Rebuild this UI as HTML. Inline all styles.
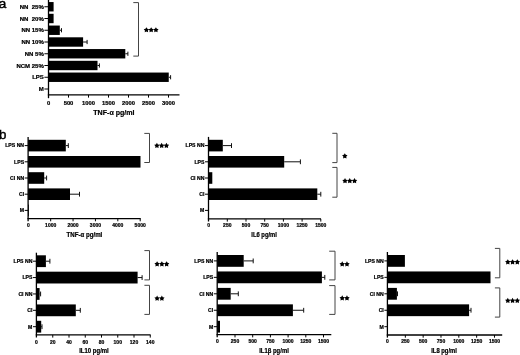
<!DOCTYPE html>
<html><head><meta charset="utf-8"><style>
html,body{margin:0;padding:0;background:#fff;width:520px;height:355px;overflow:hidden;}
svg{display:block;font-family:"Liberation Sans", sans-serif;filter:grayscale(1);}
</style></head><body>
<svg width="520" height="355" viewBox="0 0 520 355">
<rect width="520" height="355" fill="#fff"/>
<line x1="48.50" y1="0.00" x2="48.50" y2="98.20" stroke="#000" stroke-width="1.3"/>
<line x1="47.85" y1="94.90" x2="179.50" y2="94.90" stroke="#000" stroke-width="1.3"/>
<text x="48.50" y="104.90" font-size="5.8" font-weight="bold" text-anchor="middle" fill="#000" stroke="#000" stroke-width="0.22">0</text>
<line x1="68.50" y1="94.90" x2="68.50" y2="97.60" stroke="#000" stroke-width="1.0"/>
<text x="68.50" y="104.90" font-size="5.8" font-weight="bold" text-anchor="middle" fill="#000" stroke="#000" stroke-width="0.22">500</text>
<line x1="88.50" y1="94.90" x2="88.50" y2="97.60" stroke="#000" stroke-width="1.0"/>
<text x="88.50" y="104.90" font-size="5.8" font-weight="bold" text-anchor="middle" fill="#000" stroke="#000" stroke-width="0.22">1000</text>
<line x1="108.50" y1="94.90" x2="108.50" y2="97.60" stroke="#000" stroke-width="1.0"/>
<text x="108.50" y="104.90" font-size="5.8" font-weight="bold" text-anchor="middle" fill="#000" stroke="#000" stroke-width="0.22">1500</text>
<line x1="128.50" y1="94.90" x2="128.50" y2="97.60" stroke="#000" stroke-width="1.0"/>
<text x="128.50" y="104.90" font-size="5.8" font-weight="bold" text-anchor="middle" fill="#000" stroke="#000" stroke-width="0.22">2000</text>
<line x1="148.50" y1="94.90" x2="148.50" y2="97.60" stroke="#000" stroke-width="1.0"/>
<text x="148.50" y="104.90" font-size="5.8" font-weight="bold" text-anchor="middle" fill="#000" stroke="#000" stroke-width="0.22">2500</text>
<line x1="168.50" y1="94.90" x2="168.50" y2="97.60" stroke="#000" stroke-width="1.0"/>
<text x="168.50" y="104.90" font-size="5.8" font-weight="bold" text-anchor="middle" fill="#000" stroke="#000" stroke-width="0.22">3000</text>
<line x1="44.40" y1="6.75" x2="48.50" y2="6.75" stroke="#000" stroke-width="1.0"/>
<text x="43.80" y="8.91" font-size="6.0" font-weight="bold" text-anchor="end" fill="#000" stroke="#000" stroke-width="0.22">NN&#160;&#160;25%</text>
<line x1="44.40" y1="18.50" x2="48.50" y2="18.50" stroke="#000" stroke-width="1.0"/>
<text x="43.80" y="20.66" font-size="6.0" font-weight="bold" text-anchor="end" fill="#000" stroke="#000" stroke-width="0.22">NN&#160;&#160;20%</text>
<line x1="44.40" y1="30.25" x2="48.50" y2="30.25" stroke="#000" stroke-width="1.0"/>
<text x="43.80" y="32.41" font-size="6.0" font-weight="bold" text-anchor="end" fill="#000" stroke="#000" stroke-width="0.22">NN 15%</text>
<line x1="44.40" y1="42.00" x2="48.50" y2="42.00" stroke="#000" stroke-width="1.0"/>
<text x="43.80" y="44.16" font-size="6.0" font-weight="bold" text-anchor="end" fill="#000" stroke="#000" stroke-width="0.22">NN 10%</text>
<line x1="44.40" y1="53.75" x2="48.50" y2="53.75" stroke="#000" stroke-width="1.0"/>
<text x="43.80" y="55.91" font-size="6.0" font-weight="bold" text-anchor="end" fill="#000" stroke="#000" stroke-width="0.22">NN 5%</text>
<line x1="44.40" y1="65.50" x2="48.50" y2="65.50" stroke="#000" stroke-width="1.0"/>
<text x="43.80" y="67.66" font-size="6.0" font-weight="bold" text-anchor="end" fill="#000" stroke="#000" stroke-width="0.22">NCM 25%</text>
<line x1="44.40" y1="77.25" x2="48.50" y2="77.25" stroke="#000" stroke-width="1.0"/>
<text x="43.80" y="79.41" font-size="6.0" font-weight="bold" text-anchor="end" fill="#000" stroke="#000" stroke-width="0.22">LPS</text>
<line x1="44.40" y1="89.00" x2="48.50" y2="89.00" stroke="#000" stroke-width="1.0"/>
<text x="43.80" y="91.16" font-size="6.0" font-weight="bold" text-anchor="end" fill="#000" stroke="#000" stroke-width="0.22">M</text>
<rect x="48.50" y="2.05" width="5.10" height="9.40" fill="#000"/>
<rect x="48.50" y="13.80" width="5.10" height="9.40" fill="#000"/>
<line x1="59.80" y1="30.25" x2="61.50" y2="30.25" stroke="#111" stroke-width="1.0"/>
<line x1="61.50" y1="28.15" x2="61.50" y2="32.35" stroke="#111" stroke-width="1.0"/>
<rect x="48.50" y="25.55" width="11.30" height="9.40" fill="#000"/>
<line x1="83.10" y1="42.00" x2="87.10" y2="42.00" stroke="#111" stroke-width="1.0"/>
<line x1="87.10" y1="39.90" x2="87.10" y2="44.10" stroke="#111" stroke-width="1.0"/>
<rect x="48.50" y="37.30" width="34.60" height="9.40" fill="#000"/>
<line x1="125.30" y1="53.75" x2="127.90" y2="53.75" stroke="#111" stroke-width="1.0"/>
<line x1="127.90" y1="51.65" x2="127.90" y2="55.85" stroke="#111" stroke-width="1.0"/>
<rect x="48.50" y="49.05" width="76.80" height="9.40" fill="#000"/>
<line x1="97.50" y1="65.50" x2="99.40" y2="65.50" stroke="#111" stroke-width="1.0"/>
<line x1="99.40" y1="63.40" x2="99.40" y2="67.60" stroke="#111" stroke-width="1.0"/>
<rect x="48.50" y="60.80" width="49.00" height="9.40" fill="#000"/>
<line x1="168.75" y1="77.25" x2="170.60" y2="77.25" stroke="#111" stroke-width="1.0"/>
<line x1="170.60" y1="75.15" x2="170.60" y2="79.35" stroke="#111" stroke-width="1.0"/>
<rect x="48.50" y="72.55" width="120.25" height="9.40" fill="#000"/>
<polyline points="133.30,2.60 138.50,2.60 138.50,56.10 133.30,56.10" fill="none" stroke="#444" stroke-width="1.0"/>
<polygon points="146.41,27.17 147.33,28.75 149.12,29.14 147.90,30.51 148.09,32.33 146.41,31.59 144.74,32.33 144.92,30.51 143.70,29.14 145.49,28.75" fill="#000"/>
<polygon points="151.16,27.17 152.08,28.75 153.87,29.14 152.65,30.51 152.84,32.33 151.16,31.59 149.49,32.33 149.67,30.51 148.45,29.14 150.24,28.75" fill="#000"/>
<polygon points="155.91,27.17 156.83,28.75 158.62,29.14 157.40,30.51 157.59,32.33 155.91,31.59 154.24,32.33 154.42,30.51 153.20,29.14 154.99,28.75" fill="#000"/>
<text x="93.30" y="114.90" font-size="7.7" font-weight="bold" text-anchor="start" fill="#000" stroke="#000" stroke-width="0.22" textLength="41.30" lengthAdjust="spacingAndGlyphs">TNF-&#945; pg/ml</text>
<text x="-1.30" y="7.60" font-size="13.5" font-weight="normal" text-anchor="start" fill="#000" stroke="#000" stroke-width="0.45">a</text>
<line x1="28.10" y1="136.90" x2="28.10" y2="221.20" stroke="#000" stroke-width="1.3"/>
<line x1="27.45" y1="218.60" x2="140.70" y2="218.60" stroke="#000" stroke-width="1.3"/>
<text x="28.30" y="226.80" font-size="5.4" font-weight="bold" text-anchor="middle" fill="#000" stroke="#000" stroke-width="0.22" textLength="2.79" lengthAdjust="spacingAndGlyphs">0</text>
<line x1="50.68" y1="218.60" x2="50.68" y2="221.30" stroke="#000" stroke-width="1.0"/>
<text x="50.68" y="226.80" font-size="5.4" font-weight="bold" text-anchor="middle" fill="#000" stroke="#000" stroke-width="0.22" textLength="11.17" lengthAdjust="spacingAndGlyphs">1000</text>
<line x1="73.06" y1="218.60" x2="73.06" y2="221.30" stroke="#000" stroke-width="1.0"/>
<text x="73.06" y="226.80" font-size="5.4" font-weight="bold" text-anchor="middle" fill="#000" stroke="#000" stroke-width="0.22" textLength="11.17" lengthAdjust="spacingAndGlyphs">2000</text>
<line x1="95.44" y1="218.60" x2="95.44" y2="221.30" stroke="#000" stroke-width="1.0"/>
<text x="95.44" y="226.80" font-size="5.4" font-weight="bold" text-anchor="middle" fill="#000" stroke="#000" stroke-width="0.22" textLength="11.17" lengthAdjust="spacingAndGlyphs">3000</text>
<line x1="117.82" y1="218.60" x2="117.82" y2="221.30" stroke="#000" stroke-width="1.0"/>
<text x="117.82" y="226.80" font-size="5.4" font-weight="bold" text-anchor="middle" fill="#000" stroke="#000" stroke-width="0.22" textLength="11.17" lengthAdjust="spacingAndGlyphs">4000</text>
<line x1="140.20" y1="218.60" x2="140.20" y2="221.30" stroke="#000" stroke-width="1.0"/>
<text x="140.20" y="226.80" font-size="5.4" font-weight="bold" text-anchor="middle" fill="#000" stroke="#000" stroke-width="0.22" textLength="11.17" lengthAdjust="spacingAndGlyphs">5000</text>
<line x1="24.70" y1="145.60" x2="28.10" y2="145.60" stroke="#000" stroke-width="1.0"/>
<text x="24.10" y="147.45" font-size="5.15" font-weight="bold" text-anchor="end" fill="#000" stroke="#000" stroke-width="0.22">LPS NN</text>
<line x1="24.70" y1="161.80" x2="28.10" y2="161.80" stroke="#000" stroke-width="1.0"/>
<text x="24.10" y="163.65" font-size="5.15" font-weight="bold" text-anchor="end" fill="#000" stroke="#000" stroke-width="0.22">LPS</text>
<line x1="24.70" y1="178.00" x2="28.10" y2="178.00" stroke="#000" stroke-width="1.0"/>
<text x="24.10" y="179.85" font-size="5.15" font-weight="bold" text-anchor="end" fill="#000" stroke="#000" stroke-width="0.22">CI NN</text>
<line x1="24.70" y1="194.20" x2="28.10" y2="194.20" stroke="#000" stroke-width="1.0"/>
<text x="24.10" y="196.05" font-size="5.15" font-weight="bold" text-anchor="end" fill="#000" stroke="#000" stroke-width="0.22">CI</text>
<line x1="24.70" y1="210.40" x2="28.10" y2="210.40" stroke="#000" stroke-width="1.0"/>
<text x="24.10" y="212.25" font-size="5.15" font-weight="bold" text-anchor="end" fill="#000" stroke="#000" stroke-width="0.22">M</text>
<line x1="65.80" y1="145.60" x2="68.30" y2="145.60" stroke="#111" stroke-width="1.0"/>
<line x1="68.30" y1="143.20" x2="68.30" y2="148.00" stroke="#111" stroke-width="1.0"/>
<rect x="28.10" y="139.80" width="37.70" height="11.60" fill="#000"/>
<rect x="28.10" y="156.00" width="112.40" height="11.60" fill="#000"/>
<line x1="44.20" y1="178.00" x2="46.60" y2="178.00" stroke="#111" stroke-width="1.0"/>
<line x1="46.60" y1="175.60" x2="46.60" y2="180.40" stroke="#111" stroke-width="1.0"/>
<rect x="28.10" y="172.20" width="16.10" height="11.60" fill="#000"/>
<line x1="70.00" y1="194.20" x2="79.50" y2="194.20" stroke="#111" stroke-width="1.0"/>
<line x1="79.50" y1="191.80" x2="79.50" y2="196.60" stroke="#111" stroke-width="1.0"/>
<rect x="28.10" y="188.40" width="41.90" height="11.60" fill="#000"/>
<rect x="28.10" y="204.60" width="0.80" height="11.60" fill="#000"/>
<polyline points="144.30,133.40 149.50,133.40 149.50,162.50 144.30,162.50" fill="none" stroke="#444" stroke-width="1.0"/>
<polygon points="156.91,142.82 157.83,144.40 159.62,144.79 158.40,146.16 158.59,147.98 156.91,147.24 155.24,147.98 155.42,146.16 154.20,144.79 155.99,144.40" fill="#000"/>
<polygon points="161.66,142.82 162.58,144.40 164.37,144.79 163.15,146.16 163.34,147.98 161.66,147.24 159.99,147.98 160.17,146.16 158.95,144.79 160.74,144.40" fill="#000"/>
<polygon points="166.41,142.82 167.33,144.40 169.12,144.79 167.90,146.16 168.09,147.98 166.41,147.24 164.74,147.98 164.92,146.16 163.70,144.79 165.49,144.40" fill="#000"/>
<text x="66.50" y="236.70" font-size="6.7" font-weight="bold" text-anchor="start" fill="#000" stroke="#000" stroke-width="0.22" textLength="35.80" lengthAdjust="spacingAndGlyphs">TNF-&#945; pg/ml</text>
<text x="-1.10" y="138.60" font-size="13.3" font-weight="normal" text-anchor="start" fill="#000" stroke="#000" stroke-width="0.45">b</text>
<line x1="208.50" y1="136.90" x2="208.50" y2="221.50" stroke="#000" stroke-width="1.3"/>
<line x1="207.85" y1="218.90" x2="321.00" y2="218.90" stroke="#000" stroke-width="1.3"/>
<text x="208.60" y="227.20" font-size="5.4" font-weight="bold" text-anchor="middle" fill="#000" stroke="#000" stroke-width="0.22" textLength="2.79" lengthAdjust="spacingAndGlyphs">0</text>
<line x1="227.30" y1="218.90" x2="227.30" y2="221.60" stroke="#000" stroke-width="1.0"/>
<text x="227.30" y="227.20" font-size="5.4" font-weight="bold" text-anchor="middle" fill="#000" stroke="#000" stroke-width="0.22" textLength="8.38" lengthAdjust="spacingAndGlyphs">250</text>
<line x1="246.00" y1="218.90" x2="246.00" y2="221.60" stroke="#000" stroke-width="1.0"/>
<text x="246.00" y="227.20" font-size="5.4" font-weight="bold" text-anchor="middle" fill="#000" stroke="#000" stroke-width="0.22" textLength="8.38" lengthAdjust="spacingAndGlyphs">500</text>
<line x1="264.70" y1="218.90" x2="264.70" y2="221.60" stroke="#000" stroke-width="1.0"/>
<text x="264.70" y="227.20" font-size="5.4" font-weight="bold" text-anchor="middle" fill="#000" stroke="#000" stroke-width="0.22" textLength="8.38" lengthAdjust="spacingAndGlyphs">750</text>
<line x1="283.40" y1="218.90" x2="283.40" y2="221.60" stroke="#000" stroke-width="1.0"/>
<text x="283.40" y="227.20" font-size="5.4" font-weight="bold" text-anchor="middle" fill="#000" stroke="#000" stroke-width="0.22" textLength="11.17" lengthAdjust="spacingAndGlyphs">1000</text>
<line x1="302.10" y1="218.90" x2="302.10" y2="221.60" stroke="#000" stroke-width="1.0"/>
<text x="302.10" y="227.20" font-size="5.4" font-weight="bold" text-anchor="middle" fill="#000" stroke="#000" stroke-width="0.22" textLength="11.17" lengthAdjust="spacingAndGlyphs">1250</text>
<line x1="320.80" y1="218.90" x2="320.80" y2="221.60" stroke="#000" stroke-width="1.0"/>
<text x="320.80" y="227.20" font-size="5.4" font-weight="bold" text-anchor="middle" fill="#000" stroke="#000" stroke-width="0.22" textLength="11.17" lengthAdjust="spacingAndGlyphs">1500</text>
<line x1="205.00" y1="145.60" x2="208.50" y2="145.60" stroke="#000" stroke-width="1.0"/>
<text x="204.40" y="147.45" font-size="5.15" font-weight="bold" text-anchor="end" fill="#000" stroke="#000" stroke-width="0.22">LPS NN</text>
<line x1="205.00" y1="161.80" x2="208.50" y2="161.80" stroke="#000" stroke-width="1.0"/>
<text x="204.40" y="163.65" font-size="5.15" font-weight="bold" text-anchor="end" fill="#000" stroke="#000" stroke-width="0.22">LPS</text>
<line x1="205.00" y1="178.00" x2="208.50" y2="178.00" stroke="#000" stroke-width="1.0"/>
<text x="204.40" y="179.85" font-size="5.15" font-weight="bold" text-anchor="end" fill="#000" stroke="#000" stroke-width="0.22">CI NN</text>
<line x1="205.00" y1="194.20" x2="208.50" y2="194.20" stroke="#000" stroke-width="1.0"/>
<text x="204.40" y="196.05" font-size="5.15" font-weight="bold" text-anchor="end" fill="#000" stroke="#000" stroke-width="0.22">CI</text>
<line x1="205.00" y1="210.40" x2="208.50" y2="210.40" stroke="#000" stroke-width="1.0"/>
<text x="204.40" y="212.25" font-size="5.15" font-weight="bold" text-anchor="end" fill="#000" stroke="#000" stroke-width="0.22">M</text>
<line x1="222.80" y1="145.60" x2="231.50" y2="145.60" stroke="#111" stroke-width="1.0"/>
<line x1="231.50" y1="143.20" x2="231.50" y2="148.00" stroke="#111" stroke-width="1.0"/>
<rect x="208.50" y="139.80" width="14.30" height="11.60" fill="#000"/>
<line x1="284.20" y1="161.80" x2="300.40" y2="161.80" stroke="#111" stroke-width="1.0"/>
<line x1="300.40" y1="159.40" x2="300.40" y2="164.20" stroke="#111" stroke-width="1.0"/>
<rect x="208.50" y="156.00" width="75.70" height="11.60" fill="#000"/>
<rect x="208.50" y="172.20" width="3.80" height="11.60" fill="#000"/>
<line x1="317.30" y1="194.20" x2="320.80" y2="194.20" stroke="#111" stroke-width="1.0"/>
<line x1="320.80" y1="191.80" x2="320.80" y2="196.60" stroke="#111" stroke-width="1.0"/>
<rect x="208.50" y="188.40" width="108.80" height="11.60" fill="#000"/>
<polyline points="332.30,133.30 337.00,133.30 337.00,162.60 332.30,162.60" fill="none" stroke="#444" stroke-width="1.0"/>
<polygon points="344.81,153.22 345.73,154.80 347.52,155.19 346.30,156.56 346.49,158.38 344.81,157.64 343.14,158.38 343.32,156.56 342.10,155.19 343.89,154.80" fill="#000"/>
<polyline points="332.30,167.40 337.00,167.40 337.00,197.20 332.30,197.20" fill="none" stroke="#444" stroke-width="1.0"/>
<polygon points="345.01,178.12 345.93,179.70 347.72,180.09 346.50,181.46 346.69,183.28 345.01,182.54 343.34,183.28 343.52,181.46 342.30,180.09 344.09,179.70" fill="#000"/>
<polygon points="349.76,178.12 350.68,179.70 352.47,180.09 351.25,181.46 351.44,183.28 349.76,182.54 348.09,183.28 348.27,181.46 347.05,180.09 348.84,179.70" fill="#000"/>
<polygon points="354.51,178.12 355.43,179.70 357.22,180.09 356.00,181.46 356.19,183.28 354.51,182.54 352.84,183.28 353.02,181.46 351.80,180.09 353.59,179.70" fill="#000"/>
<text x="251.30" y="236.60" font-size="6.7" font-weight="bold" text-anchor="start" fill="#000" stroke="#000" stroke-width="0.22" textLength="25.60" lengthAdjust="spacingAndGlyphs">IL6 pg/ml</text>
<line x1="36.40" y1="252.70" x2="36.40" y2="337.50" stroke="#000" stroke-width="1.3"/>
<line x1="35.75" y1="334.90" x2="150.60" y2="334.90" stroke="#000" stroke-width="1.3"/>
<text x="36.50" y="343.50" font-size="5.4" font-weight="bold" text-anchor="middle" fill="#000" stroke="#000" stroke-width="0.22" textLength="2.79" lengthAdjust="spacingAndGlyphs">0</text>
<line x1="52.75" y1="334.90" x2="52.75" y2="337.60" stroke="#000" stroke-width="1.0"/>
<text x="52.75" y="343.50" font-size="5.4" font-weight="bold" text-anchor="middle" fill="#000" stroke="#000" stroke-width="0.22" textLength="5.58" lengthAdjust="spacingAndGlyphs">20</text>
<line x1="69.00" y1="334.90" x2="69.00" y2="337.60" stroke="#000" stroke-width="1.0"/>
<text x="69.00" y="343.50" font-size="5.4" font-weight="bold" text-anchor="middle" fill="#000" stroke="#000" stroke-width="0.22" textLength="5.58" lengthAdjust="spacingAndGlyphs">40</text>
<line x1="85.25" y1="334.90" x2="85.25" y2="337.60" stroke="#000" stroke-width="1.0"/>
<text x="85.25" y="343.50" font-size="5.4" font-weight="bold" text-anchor="middle" fill="#000" stroke="#000" stroke-width="0.22" textLength="5.58" lengthAdjust="spacingAndGlyphs">60</text>
<line x1="101.50" y1="334.90" x2="101.50" y2="337.60" stroke="#000" stroke-width="1.0"/>
<text x="101.50" y="343.50" font-size="5.4" font-weight="bold" text-anchor="middle" fill="#000" stroke="#000" stroke-width="0.22" textLength="5.58" lengthAdjust="spacingAndGlyphs">80</text>
<line x1="117.75" y1="334.90" x2="117.75" y2="337.60" stroke="#000" stroke-width="1.0"/>
<text x="117.75" y="343.50" font-size="5.4" font-weight="bold" text-anchor="middle" fill="#000" stroke="#000" stroke-width="0.22" textLength="8.38" lengthAdjust="spacingAndGlyphs">100</text>
<line x1="134.00" y1="334.90" x2="134.00" y2="337.60" stroke="#000" stroke-width="1.0"/>
<text x="134.00" y="343.50" font-size="5.4" font-weight="bold" text-anchor="middle" fill="#000" stroke="#000" stroke-width="0.22" textLength="8.38" lengthAdjust="spacingAndGlyphs">120</text>
<line x1="150.25" y1="334.90" x2="150.25" y2="337.60" stroke="#000" stroke-width="1.0"/>
<text x="150.25" y="343.50" font-size="5.4" font-weight="bold" text-anchor="middle" fill="#000" stroke="#000" stroke-width="0.22" textLength="8.38" lengthAdjust="spacingAndGlyphs">140</text>
<line x1="33.00" y1="261.20" x2="36.40" y2="261.20" stroke="#000" stroke-width="1.0"/>
<text x="32.40" y="263.05" font-size="5.15" font-weight="bold" text-anchor="end" fill="#000" stroke="#000" stroke-width="0.22">LPS NN</text>
<line x1="33.00" y1="277.57" x2="36.40" y2="277.57" stroke="#000" stroke-width="1.0"/>
<text x="32.40" y="279.43" font-size="5.15" font-weight="bold" text-anchor="end" fill="#000" stroke="#000" stroke-width="0.22">LPS</text>
<line x1="33.00" y1="293.95" x2="36.40" y2="293.95" stroke="#000" stroke-width="1.0"/>
<text x="32.40" y="295.80" font-size="5.15" font-weight="bold" text-anchor="end" fill="#000" stroke="#000" stroke-width="0.22">CI NN</text>
<line x1="33.00" y1="310.32" x2="36.40" y2="310.32" stroke="#000" stroke-width="1.0"/>
<text x="32.40" y="312.18" font-size="5.15" font-weight="bold" text-anchor="end" fill="#000" stroke="#000" stroke-width="0.22">CI</text>
<line x1="33.00" y1="326.70" x2="36.40" y2="326.70" stroke="#000" stroke-width="1.0"/>
<text x="32.40" y="328.55" font-size="5.15" font-weight="bold" text-anchor="end" fill="#000" stroke="#000" stroke-width="0.22">M</text>
<line x1="45.90" y1="261.20" x2="49.90" y2="261.20" stroke="#111" stroke-width="1.0"/>
<line x1="49.90" y1="258.80" x2="49.90" y2="263.60" stroke="#111" stroke-width="1.0"/>
<rect x="36.40" y="255.30" width="9.50" height="11.80" fill="#000"/>
<line x1="137.60" y1="277.57" x2="142.10" y2="277.57" stroke="#111" stroke-width="1.0"/>
<line x1="142.10" y1="275.18" x2="142.10" y2="279.97" stroke="#111" stroke-width="1.0"/>
<rect x="36.40" y="271.68" width="101.20" height="11.80" fill="#000"/>
<line x1="39.60" y1="293.95" x2="40.60" y2="293.95" stroke="#111" stroke-width="1.0"/>
<line x1="40.60" y1="291.55" x2="40.60" y2="296.35" stroke="#111" stroke-width="1.0"/>
<rect x="36.40" y="288.05" width="3.20" height="11.80" fill="#000"/>
<line x1="75.80" y1="310.32" x2="80.30" y2="310.32" stroke="#111" stroke-width="1.0"/>
<line x1="80.30" y1="307.93" x2="80.30" y2="312.72" stroke="#111" stroke-width="1.0"/>
<rect x="36.40" y="304.43" width="39.40" height="11.80" fill="#000"/>
<line x1="41.20" y1="326.70" x2="42.00" y2="326.70" stroke="#111" stroke-width="1.0"/>
<line x1="42.00" y1="324.30" x2="42.00" y2="329.10" stroke="#111" stroke-width="1.0"/>
<rect x="36.40" y="320.80" width="4.80" height="11.80" fill="#000"/>
<polyline points="144.40,250.60 149.50,250.60 149.50,279.90 144.40,279.90" fill="none" stroke="#444" stroke-width="1.0"/>
<polygon points="157.11,261.22 158.03,262.80 159.82,263.19 158.60,264.56 158.79,266.38 157.11,265.64 155.44,266.38 155.62,264.56 154.40,263.19 156.19,262.80" fill="#000"/>
<polygon points="161.86,261.22 162.78,262.80 164.57,263.19 163.35,264.56 163.54,266.38 161.86,265.64 160.19,266.38 160.37,264.56 159.15,263.19 160.94,262.80" fill="#000"/>
<polygon points="166.61,261.22 167.53,262.80 169.32,263.19 168.10,264.56 168.29,266.38 166.61,265.64 164.94,266.38 165.12,264.56 163.90,263.19 165.69,262.80" fill="#000"/>
<polyline points="144.40,285.30 149.50,285.30 149.50,314.40 144.40,314.40" fill="none" stroke="#444" stroke-width="1.0"/>
<polygon points="157.11,295.62 158.03,297.20 159.82,297.59 158.60,298.96 158.79,300.78 157.11,300.04 155.44,300.78 155.62,298.96 154.40,297.59 156.19,297.20" fill="#000"/>
<polygon points="161.86,295.62 162.78,297.20 164.57,297.59 163.35,298.96 163.54,300.78 161.86,300.04 160.19,300.78 160.37,298.96 159.15,297.59 160.94,297.20" fill="#000"/>
<text x="79.20" y="353.00" font-size="6.5" font-weight="bold" text-anchor="start" fill="#000" stroke="#000" stroke-width="0.22" textLength="29.60" lengthAdjust="spacingAndGlyphs">IL10 pg/ml</text>
<line x1="217.20" y1="252.00" x2="217.20" y2="337.30" stroke="#000" stroke-width="1.3"/>
<line x1="216.55" y1="334.70" x2="331.30" y2="334.70" stroke="#000" stroke-width="1.3"/>
<text x="217.30" y="342.70" font-size="5.4" font-weight="bold" text-anchor="middle" fill="#000" stroke="#000" stroke-width="0.22" textLength="2.79" lengthAdjust="spacingAndGlyphs">0</text>
<line x1="235.00" y1="334.70" x2="235.00" y2="337.40" stroke="#000" stroke-width="1.0"/>
<text x="235.00" y="342.70" font-size="5.4" font-weight="bold" text-anchor="middle" fill="#000" stroke="#000" stroke-width="0.22" textLength="8.38" lengthAdjust="spacingAndGlyphs">250</text>
<line x1="252.70" y1="334.70" x2="252.70" y2="337.40" stroke="#000" stroke-width="1.0"/>
<text x="252.70" y="342.70" font-size="5.4" font-weight="bold" text-anchor="middle" fill="#000" stroke="#000" stroke-width="0.22" textLength="8.38" lengthAdjust="spacingAndGlyphs">500</text>
<line x1="270.40" y1="334.70" x2="270.40" y2="337.40" stroke="#000" stroke-width="1.0"/>
<text x="270.40" y="342.70" font-size="5.4" font-weight="bold" text-anchor="middle" fill="#000" stroke="#000" stroke-width="0.22" textLength="8.38" lengthAdjust="spacingAndGlyphs">750</text>
<line x1="288.10" y1="334.70" x2="288.10" y2="337.40" stroke="#000" stroke-width="1.0"/>
<text x="288.10" y="342.70" font-size="5.4" font-weight="bold" text-anchor="middle" fill="#000" stroke="#000" stroke-width="0.22" textLength="11.17" lengthAdjust="spacingAndGlyphs">1000</text>
<line x1="305.80" y1="334.70" x2="305.80" y2="337.40" stroke="#000" stroke-width="1.0"/>
<text x="305.80" y="342.70" font-size="5.4" font-weight="bold" text-anchor="middle" fill="#000" stroke="#000" stroke-width="0.22" textLength="11.17" lengthAdjust="spacingAndGlyphs">1250</text>
<line x1="323.50" y1="334.70" x2="323.50" y2="337.40" stroke="#000" stroke-width="1.0"/>
<text x="323.50" y="342.70" font-size="5.4" font-weight="bold" text-anchor="middle" fill="#000" stroke="#000" stroke-width="0.22" textLength="11.17" lengthAdjust="spacingAndGlyphs">1500</text>
<line x1="213.80" y1="260.90" x2="217.20" y2="260.90" stroke="#000" stroke-width="1.0"/>
<text x="213.20" y="262.75" font-size="5.15" font-weight="bold" text-anchor="end" fill="#000" stroke="#000" stroke-width="0.22">LPS NN</text>
<line x1="213.80" y1="277.35" x2="217.20" y2="277.35" stroke="#000" stroke-width="1.0"/>
<text x="213.20" y="279.20" font-size="5.15" font-weight="bold" text-anchor="end" fill="#000" stroke="#000" stroke-width="0.22">LPS</text>
<line x1="213.80" y1="293.80" x2="217.20" y2="293.80" stroke="#000" stroke-width="1.0"/>
<text x="213.20" y="295.65" font-size="5.15" font-weight="bold" text-anchor="end" fill="#000" stroke="#000" stroke-width="0.22">CI NN</text>
<line x1="213.80" y1="310.25" x2="217.20" y2="310.25" stroke="#000" stroke-width="1.0"/>
<text x="213.20" y="312.10" font-size="5.15" font-weight="bold" text-anchor="end" fill="#000" stroke="#000" stroke-width="0.22">CI</text>
<line x1="213.80" y1="326.70" x2="217.20" y2="326.70" stroke="#000" stroke-width="1.0"/>
<text x="213.20" y="328.55" font-size="5.15" font-weight="bold" text-anchor="end" fill="#000" stroke="#000" stroke-width="0.22">M</text>
<line x1="243.70" y1="260.90" x2="253.20" y2="260.90" stroke="#111" stroke-width="1.0"/>
<line x1="253.20" y1="258.50" x2="253.20" y2="263.30" stroke="#111" stroke-width="1.0"/>
<rect x="217.20" y="255.00" width="26.50" height="11.80" fill="#000"/>
<line x1="321.90" y1="277.35" x2="324.80" y2="277.35" stroke="#111" stroke-width="1.0"/>
<line x1="324.80" y1="274.95" x2="324.80" y2="279.75" stroke="#111" stroke-width="1.0"/>
<rect x="217.20" y="271.45" width="104.70" height="11.80" fill="#000"/>
<line x1="230.70" y1="293.80" x2="238.30" y2="293.80" stroke="#111" stroke-width="1.0"/>
<line x1="238.30" y1="291.40" x2="238.30" y2="296.20" stroke="#111" stroke-width="1.0"/>
<rect x="217.20" y="287.90" width="13.50" height="11.80" fill="#000"/>
<line x1="292.90" y1="310.25" x2="303.70" y2="310.25" stroke="#111" stroke-width="1.0"/>
<line x1="303.70" y1="307.85" x2="303.70" y2="312.65" stroke="#111" stroke-width="1.0"/>
<rect x="217.20" y="304.35" width="75.70" height="11.80" fill="#000"/>
<rect x="217.20" y="320.80" width="2.80" height="11.80" fill="#000"/>
<polyline points="329.20,251.20 335.00,251.20 335.00,279.90 329.20,279.90" fill="none" stroke="#444" stroke-width="1.0"/>
<polygon points="342.21,261.32 343.13,262.90 344.92,263.29 343.70,264.66 343.89,266.48 342.21,265.74 340.54,266.48 340.72,264.66 339.50,263.29 341.29,262.90" fill="#000"/>
<polygon points="346.96,261.32 347.88,262.90 349.67,263.29 348.45,264.66 348.64,266.48 346.96,265.74 345.29,266.48 345.47,264.66 344.25,263.29 346.04,262.90" fill="#000"/>
<polyline points="329.20,285.60 335.00,285.60 335.00,314.40 329.20,314.40" fill="none" stroke="#444" stroke-width="1.0"/>
<polygon points="342.21,295.32 343.13,296.90 344.92,297.29 343.70,298.66 343.89,300.48 342.21,299.74 340.54,300.48 340.72,298.66 339.50,297.29 341.29,296.90" fill="#000"/>
<polygon points="346.96,295.32 347.88,296.90 349.67,297.29 348.45,298.66 348.64,300.48 346.96,299.74 345.29,300.48 345.47,298.66 344.25,297.29 346.04,296.90" fill="#000"/>
<text x="259.20" y="352.60" font-size="6.5" font-weight="bold" text-anchor="start" fill="#000" stroke="#000" stroke-width="0.22" textLength="29.60" lengthAdjust="spacingAndGlyphs">IL1&#946; pg/ml</text>
<line x1="387.40" y1="252.00" x2="387.40" y2="337.60" stroke="#000" stroke-width="1.3"/>
<line x1="386.75" y1="335.00" x2="502.20" y2="335.00" stroke="#000" stroke-width="1.3"/>
<text x="387.50" y="343.20" font-size="5.4" font-weight="bold" text-anchor="middle" fill="#000" stroke="#000" stroke-width="0.22" textLength="2.79" lengthAdjust="spacingAndGlyphs">0</text>
<line x1="405.33" y1="335.00" x2="405.33" y2="337.70" stroke="#000" stroke-width="1.0"/>
<text x="405.33" y="343.20" font-size="5.4" font-weight="bold" text-anchor="middle" fill="#000" stroke="#000" stroke-width="0.22" textLength="8.38" lengthAdjust="spacingAndGlyphs">250</text>
<line x1="423.16" y1="335.00" x2="423.16" y2="337.70" stroke="#000" stroke-width="1.0"/>
<text x="423.16" y="343.20" font-size="5.4" font-weight="bold" text-anchor="middle" fill="#000" stroke="#000" stroke-width="0.22" textLength="8.38" lengthAdjust="spacingAndGlyphs">500</text>
<line x1="440.99" y1="335.00" x2="440.99" y2="337.70" stroke="#000" stroke-width="1.0"/>
<text x="440.99" y="343.20" font-size="5.4" font-weight="bold" text-anchor="middle" fill="#000" stroke="#000" stroke-width="0.22" textLength="8.38" lengthAdjust="spacingAndGlyphs">750</text>
<line x1="458.82" y1="335.00" x2="458.82" y2="337.70" stroke="#000" stroke-width="1.0"/>
<text x="458.82" y="343.20" font-size="5.4" font-weight="bold" text-anchor="middle" fill="#000" stroke="#000" stroke-width="0.22" textLength="11.17" lengthAdjust="spacingAndGlyphs">1000</text>
<line x1="476.65" y1="335.00" x2="476.65" y2="337.70" stroke="#000" stroke-width="1.0"/>
<text x="476.65" y="343.20" font-size="5.4" font-weight="bold" text-anchor="middle" fill="#000" stroke="#000" stroke-width="0.22" textLength="11.17" lengthAdjust="spacingAndGlyphs">1250</text>
<line x1="494.48" y1="335.00" x2="494.48" y2="337.70" stroke="#000" stroke-width="1.0"/>
<text x="494.48" y="343.20" font-size="5.4" font-weight="bold" text-anchor="middle" fill="#000" stroke="#000" stroke-width="0.22" textLength="11.17" lengthAdjust="spacingAndGlyphs">1500</text>
<line x1="384.40" y1="260.90" x2="387.40" y2="260.90" stroke="#000" stroke-width="1.0"/>
<text x="383.80" y="262.75" font-size="5.15" font-weight="bold" text-anchor="end" fill="#000" stroke="#000" stroke-width="0.22">LPS NN</text>
<line x1="384.40" y1="277.35" x2="387.40" y2="277.35" stroke="#000" stroke-width="1.0"/>
<text x="383.80" y="279.20" font-size="5.15" font-weight="bold" text-anchor="end" fill="#000" stroke="#000" stroke-width="0.22">LPS</text>
<line x1="384.40" y1="293.80" x2="387.40" y2="293.80" stroke="#000" stroke-width="1.0"/>
<text x="383.80" y="295.65" font-size="5.15" font-weight="bold" text-anchor="end" fill="#000" stroke="#000" stroke-width="0.22">CI NN</text>
<line x1="384.40" y1="310.25" x2="387.40" y2="310.25" stroke="#000" stroke-width="1.0"/>
<text x="383.80" y="312.10" font-size="5.15" font-weight="bold" text-anchor="end" fill="#000" stroke="#000" stroke-width="0.22">CI</text>
<line x1="384.40" y1="326.70" x2="387.40" y2="326.70" stroke="#000" stroke-width="1.0"/>
<text x="383.80" y="328.55" font-size="5.15" font-weight="bold" text-anchor="end" fill="#000" stroke="#000" stroke-width="0.22">M</text>
<rect x="387.40" y="255.00" width="17.50" height="11.80" fill="#000"/>
<rect x="387.40" y="271.45" width="103.10" height="11.80" fill="#000"/>
<line x1="396.90" y1="293.80" x2="397.50" y2="293.80" stroke="#111" stroke-width="1.0"/>
<line x1="397.50" y1="291.40" x2="397.50" y2="296.20" stroke="#111" stroke-width="1.0"/>
<rect x="387.40" y="287.90" width="9.50" height="11.80" fill="#000"/>
<line x1="469.10" y1="310.25" x2="471.00" y2="310.25" stroke="#111" stroke-width="1.0"/>
<line x1="471.00" y1="307.85" x2="471.00" y2="312.65" stroke="#111" stroke-width="1.0"/>
<rect x="387.40" y="304.35" width="81.70" height="11.80" fill="#000"/>
<polyline points="494.90,248.40 499.80,248.40 499.80,277.80 494.90,277.80" fill="none" stroke="#444" stroke-width="1.0"/>
<polygon points="507.81,259.22 508.73,260.80 510.52,261.19 509.30,262.56 509.49,264.38 507.81,263.64 506.14,264.38 506.32,262.56 505.10,261.19 506.89,260.80" fill="#000"/>
<polygon points="512.56,259.22 513.48,260.80 515.27,261.19 514.05,262.56 514.24,264.38 512.56,263.64 510.89,264.38 511.07,262.56 509.85,261.19 511.64,260.80" fill="#000"/>
<polygon points="517.31,259.22 518.23,260.80 520.02,261.19 518.80,262.56 518.99,264.38 517.31,263.64 515.64,264.38 515.82,262.56 514.60,261.19 516.39,260.80" fill="#000"/>
<polyline points="494.90,287.90 499.80,287.90 499.80,317.10 494.90,317.10" fill="none" stroke="#444" stroke-width="1.0"/>
<polygon points="507.81,297.82 508.73,299.40 510.52,299.79 509.30,301.16 509.49,302.98 507.81,302.24 506.14,302.98 506.32,301.16 505.10,299.79 506.89,299.40" fill="#000"/>
<polygon points="512.56,297.82 513.48,299.40 515.27,299.79 514.05,301.16 514.24,302.98 512.56,302.24 510.89,302.98 511.07,301.16 509.85,299.79 511.64,299.40" fill="#000"/>
<polygon points="517.31,297.82 518.23,299.40 520.02,299.79 518.80,301.16 518.99,302.98 517.31,302.24 515.64,302.98 515.82,301.16 514.60,299.79 516.39,299.40" fill="#000"/>
<text x="431.20" y="352.60" font-size="6.5" font-weight="bold" text-anchor="start" fill="#000" stroke="#000" stroke-width="0.22" textLength="25.70" lengthAdjust="spacingAndGlyphs">IL8 pg/ml</text>
</svg>
</body></html>
